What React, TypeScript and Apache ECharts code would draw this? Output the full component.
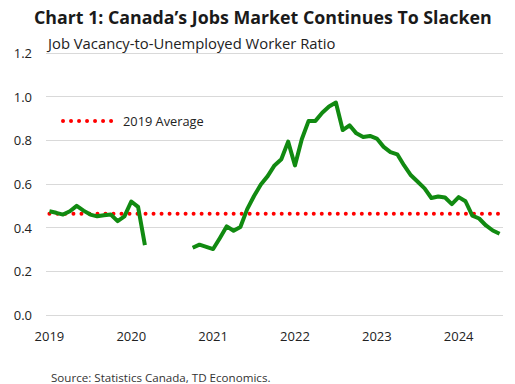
import React, { useEffect, useRef } from "react";
import * as echarts from "echarts";

const YEARS = [2019, 2020, 2021, 2022, 2023, 2024];
const MONTHS = ["01", "02", "03", "04", "05", "06", "07", "08", "09", "10", "11", "12"];

const ratio2019 = [0.475, 0.468, 0.46, 0.475, 0.5, 0.478, 0.46, 0.452, 0.457, 0.46, 0.43, 0.452];
const ratio2020 = [0.52, 0.495, 0.32, null, null, null, null, null, null, 0.308, 0.322, 0.312];
const ratio2021 = [0.302, 0.353, 0.406, 0.386, 0.403, 0.485, 0.545, 0.598, 0.636, 0.685, 0.713, 0.794];
const ratio2022 = [0.685, 0.805, 0.889, 0.889, 0.926, 0.955, 0.973, 0.847, 0.869, 0.832, 0.815, 0.82];
const ratio2023 = [0.808, 0.77, 0.746, 0.736, 0.685, 0.64, 0.61, 0.58, 0.536, 0.543, 0.538, 0.508];
const ratio2024 = [0.54, 0.521, 0.455, 0.442, 0.41, 0.387, 0.372];

const ratioValues: (number | null)[] = [
  ...ratio2019,
  ...ratio2020,
  ...ratio2021,
  ...ratio2022,
  ...ratio2023,
  ...ratio2024,
];

const categories: string[] = [];
YEARS.forEach((y) => MONTHS.forEach((m) => categories.push(`${y}-${m}`)));
categories.length = ratioValues.length;

const avg2019 = ratio2019.reduce((a, b) => a + b, 0) / ratio2019.length;
const avgValues = categories.map(() => avg2019);

const FONT = "'Open Sans', Lato, sans-serif";

export default function App() {
  const ref = useRef<HTMLDivElement>(null);
  useEffect(() => {
    document.body.style.margin = "0";
    if (!ref.current) return;
    const chart = echarts.init(ref.current, undefined, { renderer: "svg" });
    chart.setOption({
      animation: false,
      backgroundColor: "#ffffff",
      textStyle: { fontFamily: FONT },
      title: [
        {
          text: "Chart 1: Canada’s Jobs Market Continues To Slacken",
          left: 29,
          top: 3,
          textStyle: { fontFamily: FONT, fontSize: 17.8, fontWeight: "bold", color: "#1a1a1a" },
        },
        {
          text: "Job Vacancy-to-Unemployed Worker Ratio",
          left: 43,
          top: 30,
          textStyle: { fontFamily: FONT, fontSize: 14.8, fontWeight: "normal", color: "#222" },
        },
        {
          text: "Source: Statistics Canada, TD Economics.",
          left: 46,
          top: 366,
          textStyle: { fontFamily: FONT, fontSize: 11.6, fontWeight: "normal", color: "#333" },
        },
      ],
      grid: { left: 46, right: 12, top: 53, bottom: 69, containLabel: false },
      xAxis: {
        type: "category",
        data: categories,
        boundaryGap: true,
        axisLine: { show: false },
        axisTick: { show: false },
        axisLabel: {
          interval: (i: number, v: string) => v.endsWith("-01"),
          formatter: (v: string) => v.slice(0, 4),
          fontFamily: FONT,
          fontSize: 13,
          color: "#222",
          margin: 14,
        },
        splitLine: { show: false },
      },
      yAxis: {
        type: "value",
        min: 0,
        max: 1.2,
        interval: 0.2,
        axisLine: { show: false },
        axisTick: { show: false },
        axisLabel: {
          formatter: (v: number) => v.toFixed(1),
          fontFamily: FONT,
          fontSize: 13,
          color: "#222",
          margin: 14,
        },
        splitLine: { lineStyle: { color: "#d9d9d9", width: 1 } },
      },
      series: [
        {
          name: "2019 Average",
          type: "line",
          data: avgValues,
          symbol: "none",
          lineStyle: { color: "#ff0000", width: 4, type: [0.01, 8], cap: "round" },
          z: 2,
        },
        {
          name: "Ratio",
          type: "line",
          data: ratioValues,
          symbol: "none",
          connectNulls: false,
          lineStyle: { color: "#118a11", width: 4, join: "round" },
          z: 3,
        },
      ],
      graphic: [
        {
          type: "line",
          shape: { x1: 63, y1: 121, x2: 112, y2: 121 },
          style: { stroke: "#ff0000", lineWidth: 4, lineDash: [0.01, 8], lineCap: "round" },
        },
        {
          type: "text",
          x: 123,
          y: 121,
          style: {
            text: "2019 Average",
            fill: "#222",
            font: `normal 12.8px ${FONT}`,
            verticalAlign: "middle",
          },
        },
      ],
    });
    return () => chart.dispose();
  }, []);
  return <div ref={ref} style={{ width: 515, height: 384 }} />;
}
